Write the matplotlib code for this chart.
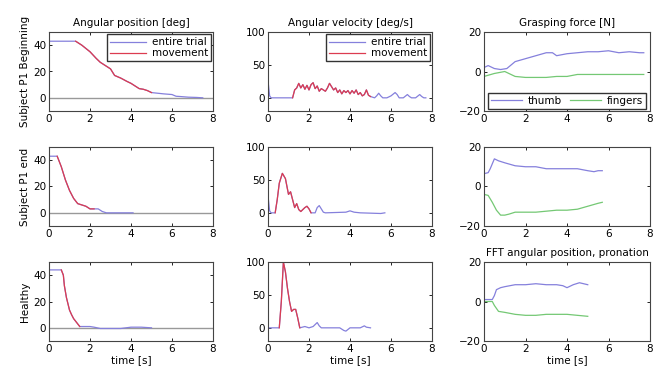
import numpy as np
import matplotlib
matplotlib.use('Agg')
import matplotlib.pyplot as plt

plt.rc('font', family='DejaVu Sans', size=7)
plt.rc('xtick', direction='in', top=True, bottom=True, labelsize=7.5)
plt.rc('ytick', direction='in', left=True, right=True, labelsize=7.5)
plt.rc('axes', linewidth=0.8, edgecolor='#444444')

BLUE = '#8580dc'
RED = '#dc3c50'
GREEN = '#74c874'

# --- row 1: Subject P1 Beginning ---
p1b_pos_pre_t = [0.0, 0.5, 1.0, 1.3]
p1b_pos_pre = [43, 43, 43, 43]
p1b_pos_mov_t = [1.3, 1.6, 2.0, 2.3, 2.5, 2.8, 3.0, 3.2, 3.5, 3.8, 4.0, 4.2, 4.4, 4.6, 4.8, 5.0]
p1b_pos_mov = [43, 40, 35, 30, 27, 24, 22, 17, 15, 12.5, 11, 9, 7, 6.5, 5.5, 4]
p1b_pos_post_t = [5.0, 5.3, 5.6, 6.0, 6.2, 6.4, 6.8, 7.2, 7.5]
p1b_pos_post = [4, 3.5, 3, 2.5, 1.2, 1, 0.5, 0.3, 0]

p1b_vel_pre_t = [0.0, 0.08, 0.15, 0.6, 1.2]
p1b_vel_pre = [26, 3, 0, 0, 0]
p1b_vel_mov_t = [1.2, 1.3, 1.4, 1.5, 1.6, 1.7, 1.8, 1.9, 2.0, 2.1, 2.2, 2.3, 2.4, 2.5, 2.6,
                 2.7, 2.8, 2.9, 3.0, 3.1, 3.2, 3.3, 3.4, 3.5, 3.6, 3.7, 3.8, 3.9, 4.0,
                 4.1, 4.2, 4.3, 4.4, 4.5, 4.6, 4.7, 4.8, 4.9, 5.0]
p1b_vel_mov = [0, 12, 15, 22, 15, 20, 13, 19, 12, 20, 23, 14, 18, 10, 14,
               12, 10, 15, 22, 17, 12, 15, 8, 12, 6, 11, 8, 11, 6,
               11, 7, 12, 5, 8, 3, 5, 12, 4, 2]
p1b_vel_post_t = [5.0, 5.1, 5.2, 5.3, 5.4, 5.5, 5.6, 5.8, 6.0, 6.2, 6.3, 6.4, 6.6,
                  6.8, 6.9, 7.0, 7.2, 7.4, 7.5, 7.6, 7.7]
p1b_vel_post = [2, 1, 0, 3, 7, 3, 0, 0, 3, 8, 5, 0, 0, 5, 2, 0, 0, 5, 2, 0, 0]

p1b_thumb_t = [0, 0.2, 0.5, 0.8, 1.1, 1.5, 2.0, 2.5, 3.0, 3.3, 3.5, 4.0, 4.5, 5.0,
               5.5, 6.0, 6.5, 7.0, 7.5, 7.7]
p1b_thumb = [2, 3, 1.5, 1, 1.5, 5, 6.5, 8, 9.5, 9.5, 8, 9, 9.5, 10, 10, 10.5, 9.5, 10, 9.5, 9.5]
p1b_fing_t = [0, 0.5, 1.0, 1.2, 1.5, 2.0, 2.5, 3.0, 3.5, 4.0, 4.5, 5.0, 5.5, 6.0, 6.5, 7.0, 7.7]
p1b_fing = [-2.5, -1, 0, -1, -2.5, -3, -3, -3, -2.5, -2.5, -1.5, -1.5, -1.5, -1.5, -1.5, -1.5, -1.5]

# --- row 2: Subject P1 end ---
p1e_pos_pre_t = [0.0, 0.2, 0.4]
p1e_pos_pre = [43, 43, 43]
p1e_pos_mov_t = [0.4, 0.6, 0.8, 1.0, 1.2, 1.4, 1.6, 1.8, 2.0, 2.2]
p1e_pos_mov = [43, 35, 25, 17, 11, 7, 6, 5, 3, 3]
p1e_pos_post_t = [2.2, 2.4, 2.6, 2.8, 3.5, 4.1]
p1e_pos_post = [3, 3, 1, 0, 0, 0]

p1e_vel_pre_t = [0.0, 0.08, 0.15, 0.35]
p1e_vel_pre = [26, 3, 0, 0]
p1e_vel_mov_t = [0.35, 0.45, 0.55, 0.7, 0.85, 1.0, 1.1, 1.2, 1.3, 1.4, 1.5, 1.6, 1.8, 1.9, 2.0, 2.1]
p1e_vel_mov = [0, 20, 45, 60, 52, 28, 32, 20, 8, 14, 5, 2, 8, 10, 6, 0]
p1e_vel_post_t = [2.1, 2.3, 2.4, 2.5, 2.6, 2.7, 2.8, 3.8, 4.0, 4.2, 4.5, 5.5, 5.7]
p1e_vel_post = [0, 0, 8, 11, 6, 1, 0, 1, 3, 1, 0, -1, 0]

p1e_thumb_t = [0, 0.2, 0.3, 0.5, 0.7, 1.0, 1.5, 2.0, 2.5, 3.0, 3.5, 4.0, 4.5, 5.0, 5.3, 5.5, 5.7]
p1e_thumb = [6.5, 7, 9, 14, 13, 12, 10.5, 10, 10, 9, 9, 9, 9, 8, 7.5, 8, 8]
p1e_fing_t = [0, 0.2, 0.4, 0.6, 0.8, 1.0, 1.2, 1.5, 2.0, 2.5, 3.0, 3.5, 4.0, 4.5, 5.0, 5.5, 5.7]
p1e_fing = [-4, -4.5, -8, -12, -14.5, -14.5, -14, -13, -13, -13, -12.5, -12, -12, -11.5, -10, -8.5, -8]

# --- row 3: Healthy ---
hea_pos_pre_t = [0.0, 0.3, 0.6]
hea_pos_pre = [44, 44, 44]
hea_pos_mov_t = [0.6, 0.7, 0.75, 0.85, 1.0, 1.1, 1.2, 1.3, 1.4, 1.5]
hea_pos_mov = [44, 40, 32, 23, 13.5, 10, 7, 5, 3, 1]
hea_pos_post_t = [1.5, 2.0, 2.2, 2.5, 3.0, 3.5, 4.0, 4.5, 5.0]
hea_pos_post = [1, 1, 0.5, -0.5, -0.5, -0.5, 0.5, 0.5, 0]

hea_vel_pre_t = [0.0, 0.3, 0.55]
hea_vel_pre = [0, 0, 0]
hea_vel_mov_t = [0.55, 0.65, 0.75, 0.85, 0.95, 1.05, 1.15, 1.25, 1.35, 1.45, 1.55]
hea_vel_mov = [0, 40, 100, 85, 60, 40, 25, 28, 28, 15, 0]
hea_vel_post_t = [1.55, 1.8, 2.0, 2.2, 2.4, 2.5, 2.6, 3.5, 3.7, 3.8, 4.0, 4.5, 4.7, 4.8, 5.0]
hea_vel_post = [0, 2, 0, 2, 8, 3, 0, 0, -4, -5, 0, 0, 3, 1, 0]

hea_thumb_t = [0, 0.4, 0.5, 0.6, 0.8, 1.0, 1.5, 2.0, 2.5, 3.0, 3.5, 3.8, 4.0, 4.3, 4.6, 5.0]
hea_thumb = [1, 1, 3, 6, 7, 7.5, 8.5, 8.5, 9, 8.5, 8.5, 8, 7, 8.5, 9.5, 8.5]
hea_fing_t = [0, 0.4, 0.5, 0.7, 1.0, 1.5, 2.0, 2.5, 3.0, 3.5, 4.0, 4.5, 5.0]
hea_fing = [0, 0, -2, -5, -5.5, -6.5, -7, -7, -6.5, -6.5, -6.5, -7, -7.5]

row_labels = ['Subject P1 Beginning', 'Subject P1 end', 'Healthy']
col_titles = ['Angular position [deg]', 'Angular velocity [deg/s]', 'Grasping force [N]']

rows = [
    dict(pos=(p1b_pos_pre_t, p1b_pos_pre, p1b_pos_mov_t, p1b_pos_mov, p1b_pos_post_t, p1b_pos_post),
         vel=(p1b_vel_pre_t, p1b_vel_pre, p1b_vel_mov_t, p1b_vel_mov, p1b_vel_post_t, p1b_vel_post),
         force=(p1b_thumb_t, p1b_thumb, p1b_fing_t, p1b_fing)),
    dict(pos=(p1e_pos_pre_t, p1e_pos_pre, p1e_pos_mov_t, p1e_pos_mov, p1e_pos_post_t, p1e_pos_post),
         vel=(p1e_vel_pre_t, p1e_vel_pre, p1e_vel_mov_t, p1e_vel_mov, p1e_vel_post_t, p1e_vel_post),
         force=(p1e_thumb_t, p1e_thumb, p1e_fing_t, p1e_fing)),
    dict(pos=(hea_pos_pre_t, hea_pos_pre, hea_pos_mov_t, hea_pos_mov, hea_pos_post_t, hea_pos_post),
         vel=(hea_vel_pre_t, hea_vel_pre, hea_vel_mov_t, hea_vel_mov, hea_vel_post_t, hea_vel_post),
         force=(hea_thumb_t, hea_thumb, hea_fing_t, hea_fing)),
]

fig = plt.figure(figsize=(6.68, 3.71), dpi=100)
W, H = 668.0, 371.0
col_x = [(49, 164), (268, 164), (484, 166)]
row_y = [(32, 79), (147, 79), (262, 79)]


def entire(seg):
    pre_t, pre, mov_t, mov, post_t, post = seg
    t = list(pre_t) + list(mov_t[1:]) + list(post_t[1:])
    v = list(pre) + list(mov[1:]) + list(post[1:])
    return t, v


for r, row in enumerate(rows):
    axes = []
    for c in range(3):
        x0, w = col_x[c]
        y0, h = row_y[r]
        ax = fig.add_axes([x0 / W, 1 - (y0 + h) / H, w / W, h / H])
        ax.set_xlim(0, 8)
        ax.set_xticks([0, 2, 4, 6, 8])
        ax.tick_params(length=2.5, width=0.6, pad=2)
        axes.append(ax)

    ax1, ax2, ax3 = axes

    # angular position
    t, v = entire(row['pos'])
    ax1.axhline(0, color='#999999', lw=1.0)
    ax1.plot(t, v, color=BLUE, lw=0.9, label='entire trial')
    ax1.plot(row['pos'][2], row['pos'][3], color=RED, lw=0.9, label='movement')
    ax1.set_ylim(-10, 50)
    ax1.set_yticks([0, 20, 40])
    ax1.set_ylabel(row_labels[r], fontsize=7.5, labelpad=2)

    # angular velocity
    t, v = entire(row['vel'])
    ax2.plot(t, v, color=BLUE, lw=0.9, label='entire trial')
    ax2.plot(row['vel'][2], row['vel'][3], color=RED, lw=0.9, label='movement')
    ax2.set_ylim(-20, 100)
    ax2.set_yticks([0, 50, 100])

    # grasping force
    th_t, th, fi_t, fi = row['force']
    ax3.plot(th_t, th, color=BLUE, lw=0.9, label='thumb')
    ax3.plot(fi_t, fi, color=GREEN, lw=0.9, label='fingers')
    ax3.set_ylim(-20, 20)
    ax3.set_yticks([-20, 0, 20])

    if r == 0:
        for ax, title in zip(axes, col_titles):
            ax.set_title(title, fontsize=7.5, pad=4)
        for ax in (ax1, ax2):
            ax.legend(loc='upper right', fontsize=7.5, fancybox=False, edgecolor='#333333',
                      framealpha=1, borderpad=0.3, labelspacing=0.1, handlelength=3.5,
                      handletextpad=0.5, borderaxespad=0.2)
        leg = ax3.legend(loc='lower center', ncol=2, fontsize=7.5, fancybox=False,
                         edgecolor='#333333', framealpha=1, borderpad=0.3,
                         handlelength=3.0, handletextpad=0.5, columnspacing=0.8,
                         borderaxespad=0.2)
    if r == 2:
        ax3.set_title('FFT angular position, pronation', fontsize=7.5, pad=4)
        for ax in axes:
            ax.set_xlabel('time [s]', fontsize=7.5, labelpad=1)

fig.savefig('out.png', dpi=100)
